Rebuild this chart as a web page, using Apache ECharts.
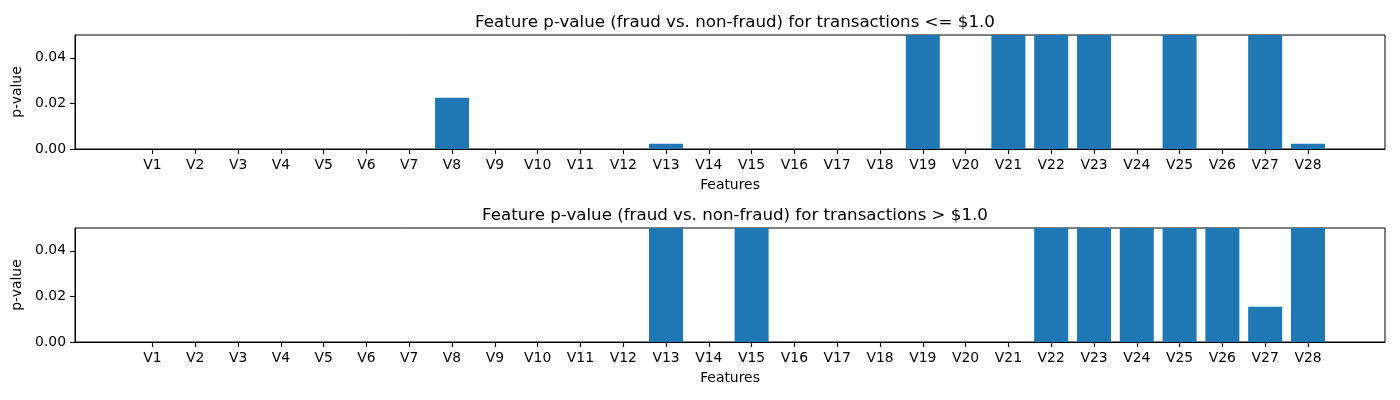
<!DOCTYPE html>
<html>
<head>
<meta charset="utf-8">
<script src="https://cdn.jsdelivr.net/npm/echarts@6/dist/echarts.min.js"></script>
<style>html,body{margin:0;padding:0;background:#fff}#c{width:1400px;height:400px}</style>
</head>
<body>
<div id="c"></div>
<script>
// Data (values above 0.05 are clipped in the reference; those are estimates)
const categories = ["V1","V2","V3","V4","V5","V6","V7","V8","V9","V10","V11","V12","V13","V14","V15","V16","V17","V18","V19","V20","V21","V22","V23","V24","V25","V26","V27","V28"];
const pLow  = [0,0,0,0,0,0,0,0.0225,0,0,0,0,0.0023,0,0,0,0,0,0.21,0,0.35,0.42,0.18,0,0.55,0,0.27,0.0023];
const pHigh = [0,0,0,0,0,0,0,0,0,0,0,0,0.31,0,0.12,0,0,0,0,0,0,0.44,0.63,0.25,0.38,0.52,0.0155,0.29];
const titles = ["Feature p-value (fraud vs. non-fraud) for transactions <= $1.0",
                "Feature p-value (fraud vs. non-fraud) for transactions > $1.0"];
const yTicks = [0, 0.02, 0.04];
const xName = "Features";
const yName = "p-value";

const FONT = "DejaVu Sans";
const idx = categories.map((_, i) => i);
const gridTops = [35, 228];

function xAxisFor(g) {
  return {
    type: 'value', gridIndex: g, min: -1.81, max: 28.8,
    name: xName, nameLocation: 'middle', nameGap: 29,
    nameTextStyle: {fontFamily: FONT, fontSize: 13.9, color: '#000'},
    axisLine: {show: true, onZero: false, lineStyle: {color: '#000', width: 1}},
    axisTick: {show: true, length: 5, customValues: idx, lineStyle: {color: '#000', width: 1.1}},
    axisLabel: {show: true, customValues: idx, margin: 9, fontFamily: FONT, fontSize: 13.9, color: '#000',
      formatter: v => categories[Math.round(v)]},
    splitLine: {show: false}
  };
}
function yAxisFor(g) {
  return {
    type: 'value', gridIndex: g, min: 0, max: 0.05,
    name: yName, nameLocation: 'middle', nameGap: 46, nameRotate: 90,
    nameTextStyle: {fontFamily: FONT, fontSize: 13.9, color: '#000'},
    axisLine: {show: true, onZero: false, lineStyle: {color: '#000', width: 1}},
    axisTick: {show: true, length: 5, customValues: yTicks, lineStyle: {color: '#000', width: 1.1}},
    axisLabel: {show: true, customValues: yTicks, margin: 9, fontFamily: FONT, fontSize: 13.9, color: '#000',
      formatter: v => v.toFixed(2)},
    splitLine: {show: false}
  };
}

const chart = echarts.init(document.getElementById('c'), null, {renderer: 'canvas'});
chart.setOption({
  animation: false,
  backgroundColor: '#fff',
  title: titles.map((t, i) => ({
    text: t, left: 730, top: gridTops[i] - 26, textAlign: 'center',
    textStyle: {fontFamily: FONT, fontSize: 16.67, fontWeight: 'normal', color: '#000'}
  })),
  grid: gridTops.map(t => ({left: 75, right: 15, top: t, height: 114, show: true,
    borderColor: '#000', borderWidth: 1, backgroundColor: 'transparent'})),
  xAxis: [xAxisFor(0), xAxisFor(1)],
  yAxis: [yAxisFor(0), yAxisFor(1)],
  series: [pLow, pHigh].map((arr, g) => ({
    type: 'bar', xAxisIndex: g, yAxisIndex: g, barWidth: 34, clip: true,
    itemStyle: {color: '#1f77b4'},
    data: arr.map((v, i) => [i, v])
  }))
});
</script>
</body>
</html>
